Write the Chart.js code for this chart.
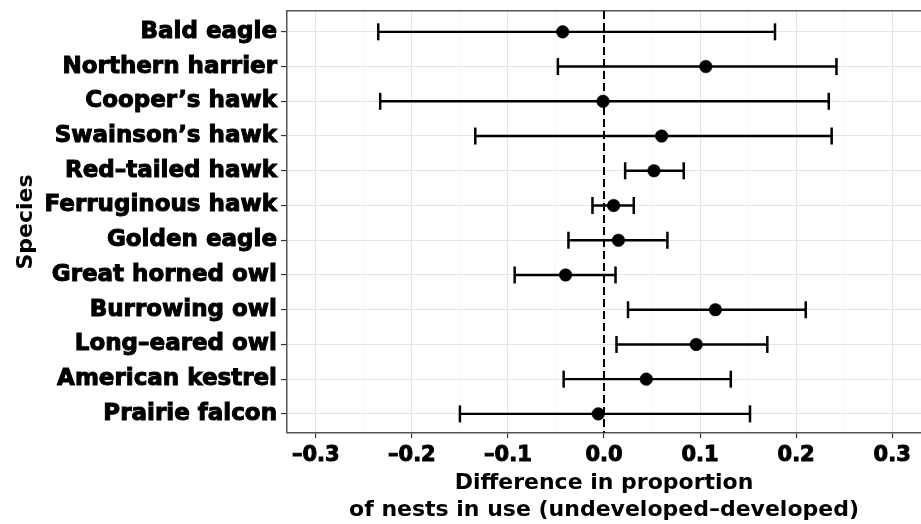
<!DOCTYPE html>
<html>
<head>
<meta charset="utf-8">
<script src="https://cdn.jsdelivr.net/npm/chart.js@4.4.1/dist/chart.umd.min.js"></script>
<style>
  html, body { margin: 0; padding: 0; background: #ffffff; overflow: hidden; }
  canvas { display: block; }
</style>
</head>
<body>
<canvas id="c" width="921" height="524"></canvas>
<script>
// ---- data ----
const species = [
  'Bald eagle', 'Northern harrier', "Cooper\u2019s hawk", "Swainson\u2019s hawk",
  'Red\u2013tailed hawk', 'Ferruginous hawk', 'Golden eagle', 'Great horned owl',
  'Burrowing owl', 'Long\u2013eared owl', 'American kestrel', 'Prairie falcon'
];
const estimate = [-0.043, 0.106, -0.001, 0.060, 0.052, 0.010, 0.015, -0.040, 0.116, 0.096, 0.044, -0.006];
const lower    = [-0.235, -0.048, -0.233, -0.134, 0.022, -0.012, -0.037, -0.093, 0.025, 0.013, -0.042, -0.150];
const upper    = [0.178, 0.242, 0.234, 0.237, 0.083, 0.031, 0.066, 0.012, 0.210, 0.170, 0.132, 0.152];
const xTickValues = [-0.3, -0.2, -0.1, 0, 0.1, 0.2, 0.3];
const xTickLabels = ['\u20130.3', '\u20130.2', '\u20130.1', '0.0', '0.1', '0.2', '0.3'];
const xMinorValues = [-0.25, -0.15, -0.05, 0.05, 0.15, 0.25];
const refLine = 0;
const xTitle = ['Difference in proportion', 'of nests in use (undeveloped\u2013developed)'];
const yTitle = 'Species';

// ---- chart ----
const FONT = "'DejaVu Sans', 'Liberation Sans', sans-serif";
const TXT = '#000000';

const whiskers = species.map((s, i) => ({
  label: s,
  data: [{x: lower[i], y: i}, {x: upper[i], y: i}],
  showLine: true,
  borderColor: '#000',
  borderWidth: 2.4,
  pointRadius: 0,
  order: 2
}));

const caps = {
  label: 'caps',
  data: species.flatMap((s, i) => [{x: lower[i], y: i}, {x: upper[i], y: i}]),
  showLine: false,
  pointStyle: 'line',
  pointRotation: 90,
  pointRadius: 8.5,
  pointBorderWidth: 2.5,
  pointBorderColor: '#000',
  order: 1
};

const points = {
  label: 'estimate',
  data: species.map((s, i) => ({x: estimate[i], y: i})),
  showLine: false,
  pointStyle: 'circle',
  pointRadius: 6.3,
  pointBackgroundColor: '#000',
  pointBorderColor: '#000',
  pointBorderWidth: 0.5,
  order: 0
};

const refLinePlugin = {
  id: 'refLine',
  beforeDatasetsDraw(chart) {
    const {ctx, chartArea, scales} = chart;
    const px = scales.x.getPixelForValue(refLine);
    ctx.save();
    ctx.strokeStyle = '#000';
    ctx.lineWidth = 2;
    ctx.setLineDash([8, 4]);
    ctx.beginPath();
    ctx.moveTo(px, chartArea.top);
    ctx.lineTo(px, chartArea.bottom);
    ctx.stroke();
    ctx.restore();
  }
};

new Chart(document.getElementById('c'), {
  type: 'scatter',
  data: { datasets: [points, caps, ...whiskers] },
  plugins: [refLinePlugin],
  options: {
    responsive: false,
    animation: false,
    events: [],
    layout: { autoPadding: false, padding: { top: 11, left: 0, right: 0, bottom: 0 } },
    plugins: { legend: { display: false }, tooltip: { enabled: false } },
    scales: {
      x: {
        type: 'linear',
        position: 'bottom',
        min: -0.33,
        max: 0.33,
        afterBuildTicks: s => { s.ticks = xTickValues.map(v => ({value: v})); },
        afterFit: s => { s.height = 91; s.paddingLeft = 0; s.paddingRight = 0; },
        ticks: {
          autoSkip: false,
          maxRotation: 0,
          padding: 5,
          color: TXT,
          textStrokeColor: TXT,
          textStrokeWidth: 1,
          font: { family: FONT, size: 21, weight: 'bold' },
          callback: (v, i) => xTickLabels[i]
        },
        grid: { color: '#e4e4e4', lineWidth: 1.1, tickColor: '#333', tickLength: 5, tickWidth: 1.2 },
        border: { display: true, color: '#555', width: 1.5 },
        title: {
          display: true,
          text: xTitle,
          color: TXT,
          font: { family: FONT, size: 22, weight: 'bold', lineHeight: 1.24 },
          padding: { top: 0, bottom: 0 }
        }
      },
      x2: {
        type: 'linear',
        position: 'top',
        min: -0.33,
        max: 0.33,
        afterBuildTicks: s => { s.ticks = xMinorValues.map(v => ({value: v})); },
        afterFit: s => { s.height = 0; s.paddingLeft = 0; s.paddingRight = 0; },
        ticks: { display: false },
        grid: { color: '#f0f0f0', lineWidth: 0.7, drawTicks: false },
        border: { display: true, color: '#555', width: 1.5 }
      },
      y: {
        type: 'linear',
        reverse: true,
        min: -0.6,
        max: 11.55,
        afterBuildTicks: s => { s.ticks = species.map((n, i) => ({value: i})); },
        afterFit: s => { s.width = 287; s.paddingTop = 0; s.paddingBottom = 0; },
        ticks: {
          autoSkip: false,
          padding: 4,
          color: TXT,
          textStrokeColor: TXT,
          textStrokeWidth: 1,
          font: { family: FONT, size: 23, weight: 'bold' },
          callback: (v, i) => species[i]
        },
        grid: { color: '#e4e4e4', lineWidth: 1.1, tickColor: '#333', tickLength: 6, tickWidth: 1.2 },
        border: { display: true, color: '#555', width: 1.5 },
        title: {
          display: true,
          text: yTitle,
          color: TXT,
          font: { family: FONT, size: 22, weight: 'bold' },
          padding: { top: 13, bottom: 0 }
        }
      }
    }
  }
});
</script>
</body>
</html>
